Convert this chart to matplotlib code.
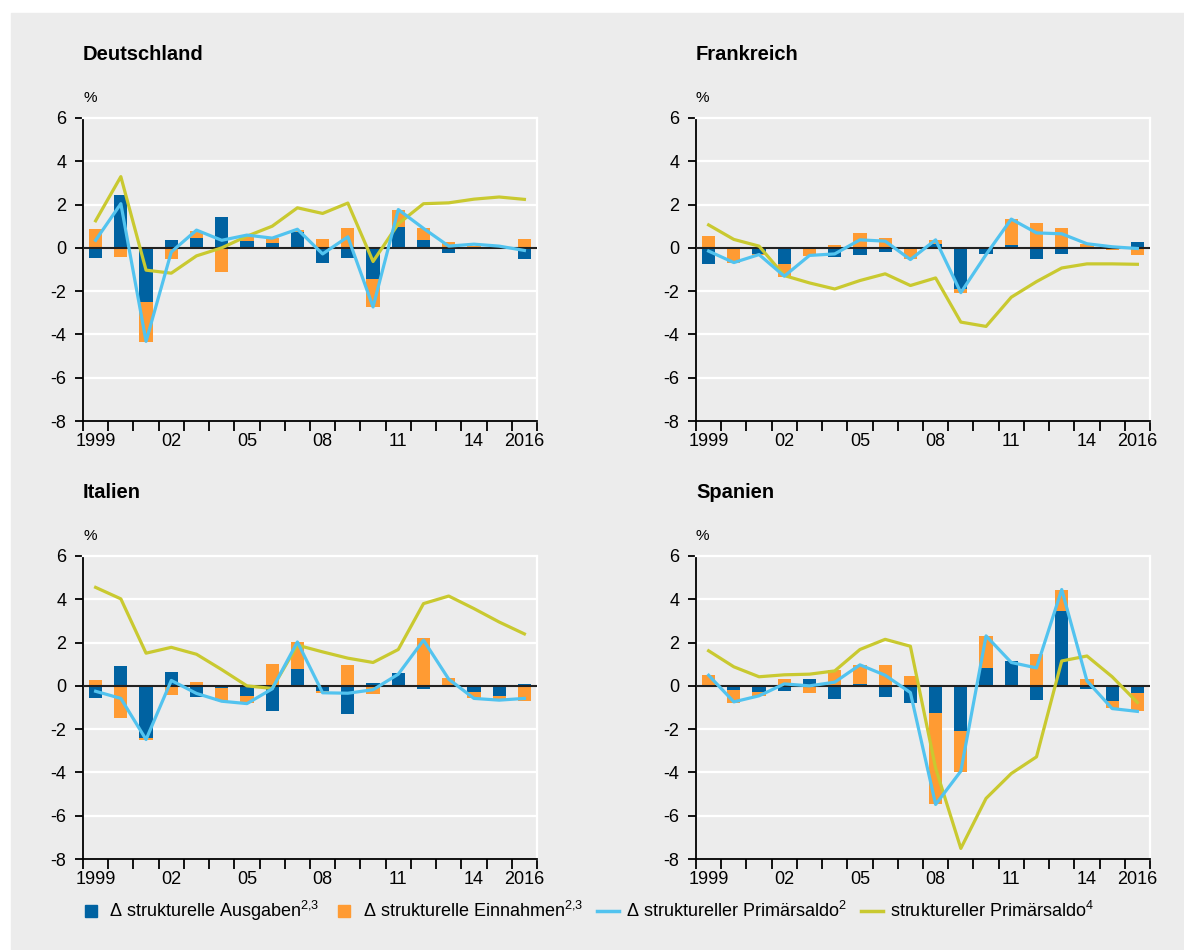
import numpy as np
import matplotlib
matplotlib.use('agg')
import matplotlib.pyplot as plt
from matplotlib.lines import Line2D
from matplotlib.patches import Rectangle

plt.rcParams['font.family'] = ['Liberation Sans', 'DejaVu Sans']
plt.rcParams['mathtext.fontset'] = 'custom'
plt.rcParams['mathtext.rm'] = 'Liberation Sans'

# years 1999 - 2016
years = list(range(1999, 2017))
year_labels = ['1999', '', '', '02', '', '', '05', '', '', '08', '', '', '11', '', '', '14', '', '2016']

# Deutschland
ausg_de = [-0.48, 2.44, -2.50, 0.35, 0.46, 1.42, 0.31, 0.23, 0.74, -0.71, -0.48, -1.45, 0.96, 0.35, -0.25, -0.02, 0.0, -0.52]
einn_de = [0.86, -0.42, -1.85, -0.52, 0.31, -1.13, 0.25, 0.23, 0.08, 0.40, 0.91, -1.30, 0.78, 0.56, 0.26, 0.08, -0.05, 0.40]
delta_de = [0.35, 2.04, -4.32, -0.19, 0.82, 0.35, 0.59, 0.45, 0.86, -0.28, 0.51, -2.73, 1.77, 0.90, 0.08, 0.17, 0.08, -0.12]
saldo_de = [1.25, 3.29, -1.03, -1.17, -0.37, 0.0, 0.54, 1.0, 1.85, 1.59, 2.07, -0.63, 1.11, 2.04, 2.08, 2.25, 2.35, 2.24]

# Frankreich
ausg_fr = [-0.74, 0.0, -0.30, -0.74, 0.0, -0.42, -0.32, -0.19, 0.0, 0.17, -1.88, -0.28, 0.12, -0.51, -0.28, -0.03, 0.0, 0.26]
einn_fr = [0.54, -0.68, -0.05, -0.60, -0.37, 0.12, 0.68, 0.45, -0.52, 0.18, -0.20, 0.05, 1.21, 1.17, 0.91, 0.20, -0.09, -0.32]
delta_fr = [-0.15, -0.68, -0.31, -1.31, -0.35, -0.28, 0.37, 0.31, -0.54, 0.37, -2.07, -0.31, 1.33, 0.69, 0.65, 0.19, 0.05, -0.03]
saldo_fr = [1.06, 0.39, 0.08, -1.28, -1.62, -1.90, -1.51, -1.20, -1.74, -1.39, -3.43, -3.63, -2.28, -1.56, -0.93, -0.74, -0.74, -0.76]

# Italien
ausg_it = [-0.57, 0.91, -2.40, 0.63, -0.52, -0.11, -0.46, -1.17, 0.77, -0.25, -1.29, 0.12, 0.58, -0.15, 0.0, -0.29, -0.46, 0.08]
einn_it = [0.26, -1.49, -0.11, -0.42, 0.17, -0.57, -0.34, 1.00, 1.25, -0.09, 0.95, -0.37, 0.0, 2.20, 0.35, -0.26, -0.14, -0.69]
delta_it = [-0.25, -0.58, -2.48, 0.25, -0.35, -0.71, -0.82, -0.14, 2.03, -0.32, -0.34, -0.18, 0.54, 2.11, 0.31, -0.58, -0.66, -0.58]
saldo_it = [4.55, 4.02, 1.51, 1.78, 1.46, 0.75, 0.0, -0.12, 1.88, 1.57, 1.28, 1.08, 1.68, 3.80, 4.15, 3.57, 2.95, 2.40]

# Spanien
ausg_es = [0.0, -0.20, -0.28, -0.25, 0.31, -0.62, 0.08, -0.52, -0.80, -1.26, -2.09, 0.83, 1.14, -0.65, 3.46, -0.14, -0.71, -0.32]
einn_es = [0.49, -0.58, -0.18, 0.31, -0.34, 0.72, 0.87, 0.95, 0.45, -4.19, -1.88, 1.46, -0.05, 1.46, 0.96, 0.31, -0.31, -0.83]
delta_es = [0.49, -0.74, -0.46, 0.09, 0.0, 0.17, 0.97, 0.49, -0.31, -5.48, -3.94, 2.31, 1.08, 0.83, 4.45, 0.23, -1.05, -1.18]
saldo_es = [1.62, 0.88, 0.42, 0.51, 0.54, 0.69, 1.68, 2.15, 1.83, -3.80, -7.51, -5.20, -4.05, -3.28, 1.15, 1.38, 0.42, -0.77]

# colours
bg = '#ececec'
c_ausg = '#0062a1'
c_einn = '#ff9b33'
c_delta = '#52c3ef'
c_saldo = '#c9c930'

W, H = 1184., 950.


def draw_panel(ax, title, ausg, einn, delta, saldo):
	x = np.arange(len(years))
	ausg = np.array(ausg)
	einn = np.array(einn)

	# orange sits on top of blue when they have the same sign
	bottom = np.where(np.sign(einn) == np.sign(ausg), ausg, 0.0)

	ax.set_facecolor(bg)
	ax.set_xlim(-0.5, len(years) - 0.5)
	ax.set_ylim(-8, 6)

	# white horizontal grid
	for v in [-6, -4, -2, 2, 4]:
		ax.axhline(v, color='white', lw=1.6, zorder=0)

	ax.bar(x, ausg, width=0.52, color=c_ausg, zorder=2)
	ax.bar(x, einn, width=0.52, bottom=bottom, color=c_einn, zorder=2)
	ax.axhline(0, color='#222222', lw=1.5, zorder=3)
	ax.plot(x, saldo, color=c_saldo, lw=2.3, zorder=4)
	ax.plot(x, delta, color=c_delta, lw=2.3, zorder=5)

	## axes and ticks
	for s in ['left', 'bottom']:
		ax.spines[s].set_color('black')
		ax.spines[s].set_linewidth(1.3)
	for s in ['top', 'right']:
		ax.spines[s].set_color('white')
		ax.spines[s].set_linewidth(1.6)

	ax.set_xticks(np.arange(-0.5, len(years), 1))
	ax.set_xticklabels([])
	ax.set_xticks(x, minor=True)
	ax.set_xticklabels(year_labels, minor=True)
	ax.tick_params(axis='x', which='major', length=7, width=1.3, direction='out')
	ax.tick_params(axis='x', which='minor', length=0, pad=9, labelsize=13)

	yt = list(range(-8, 7, 2))
	ax.set_yticks(yt)
	ax.set_yticklabels([str(v) for v in yt])
	ax.tick_params(axis='y', length=6, width=1.3, direction='out', pad=6, labelsize=13)

	ax.text(0, 1 + 64 / 303., title, transform=ax.transAxes, fontsize=14.5,
		fontweight='bold', ha='left', va='center')
	ax.text(0, 1 + 20 / 303., '%', transform=ax.transAxes, fontsize=11,
		ha='left', va='center')


fig = plt.figure(figsize=(W / 100, H / 100), dpi=100)
fig.patch.set_facecolor('white')
fig.patches.append(Rectangle((11 / W, 0), 1, 1 - 13 / H, transform=fig.transFigure,
	color=bg, zorder=-10))

aw = 454 / W
ah = 303 / H
ax_de = fig.add_axes([83 / W, 1 - 421 / H, aw, ah])
ax_fr = fig.add_axes([696 / W, 1 - 421 / H, aw, ah])
ax_it = fig.add_axes([83 / W, 1 - 859 / H, aw, ah])
ax_es = fig.add_axes([696 / W, 1 - 859 / H, aw, ah])

draw_panel(ax_de, 'Deutschland', ausg_de, einn_de, delta_de, saldo_de)
draw_panel(ax_fr, 'Frankreich', ausg_fr, einn_fr, delta_fr, saldo_fr)
draw_panel(ax_it, 'Italien', ausg_it, einn_it, delta_it, saldo_it)
draw_panel(ax_es, 'Spanien', ausg_es, einn_es, delta_es, saldo_es)

# legend
handles = [
	Line2D([], [], marker='s', linestyle='none', markersize=9, color=c_ausg),
	Line2D([], [], marker='s', linestyle='none', markersize=9, color=c_einn),
	Line2D([], [], color=c_delta, lw=2.5),
	Line2D([], [], color=c_saldo, lw=2.5),
]
labels = [
	'\u0394 strukturelle Ausgaben$^{2{,}3}$',
	'\u0394 strukturelle Einnahmen$^{2{,}3}$',
	'\u0394 struktureller Prim\u00e4rsaldo$^{2}$',
	'struktureller Prim\u00e4rsaldo$^{4}$',
]
fig.legend(handles, labels, loc='center left', bbox_to_anchor=(80 / W, 1 - 911 / H),
	ncol=4, frameon=False, fontsize=13, handlelength=1.2, handletextpad=0.4,
	columnspacing=0.8, borderaxespad=0, borderpad=0)

fig.savefig('out.png', dpi=100, facecolor=fig.get_facecolor())
